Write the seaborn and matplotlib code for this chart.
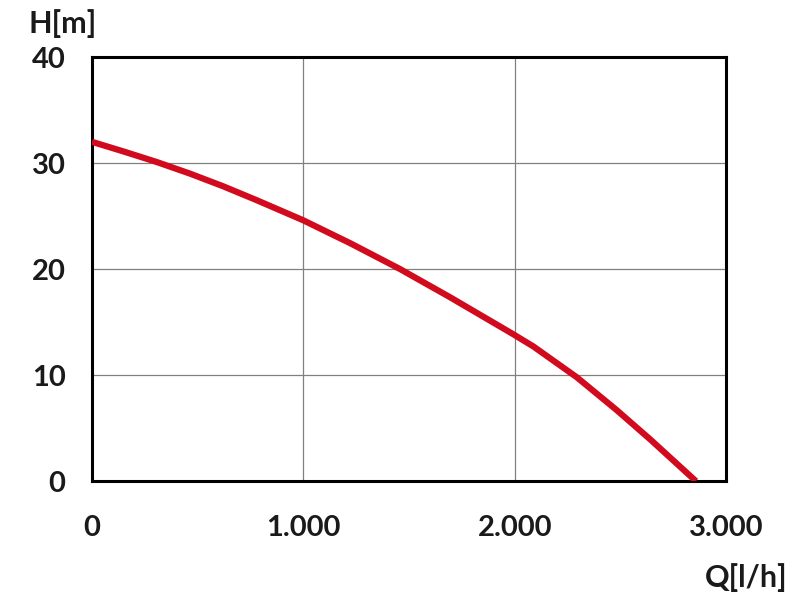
import pandas as pd
import numpy as np
import matplotlib.pyplot as plt
import seaborn as sns

# pump curve
flow_lh = [0, 148, 306, 464, 622, 779, 1000, 1221, 1458, 1694, 1994, 2089, 2294, 2483, 2641, 2858]
head_m = [32, 31.1, 30.1, 29.0, 27.8, 26.5, 24.6, 22.45, 20.0, 17.35, 13.85, 12.7, 9.8, 6.7, 3.95, 0]

x_ticks = [0, 1000, 2000, 3000]
x_labels = ["0", "1.000", "2.000", "3.000"]
y_ticks = [0, 10, 20, 30, 40]

sns.set_style("white")
plt.rcParams["font.family"] = ["Lato", "DejaVu Sans"]

df = pd.DataFrame({"Q": flow_lh, "H": head_m})

fig = plt.figure(figsize=(8, 6), dpi=100)
ax = fig.add_axes([0.115, 0.198, 0.7925, 0.707])
fig.patch.set_facecolor("white")

sns.lineplot(data=df, x="Q", y="H", ax=ax, color="#d20a1e", linewidth=4.5,
             solid_capstyle="butt", solid_joinstyle="round", zorder=3)

ax.set_xlim(0, 3000)
ax.set_ylim(0, 40)
ax.set_xticks(x_ticks)
ax.set_xticklabels(x_labels)
ax.set_yticks(y_ticks)
ax.grid(True, color="#808080", linewidth=0.9)
ax.set_axisbelow(True)

for s in ax.spines.values():
    s.set_color("black")
    s.set_linewidth(2.2)

ax.tick_params(axis="y", direction="out", length=11, width=0.9, color="#808080",
               labelsize=21, pad=8)
ax.tick_params(axis="x", direction="out", length=15, width=0.9, color="#808080",
               labelsize=21, pad=9)
for lab in ax.get_xticklabels() + ax.get_yticklabels():
    lab.set_fontweight("bold")
    lab.set_color("#1a1a1a")

ax.set_xlabel("")
ax.set_ylabel("")
fig.text(0.035, 0.96, "H[m]", fontsize=22, fontweight="bold", color="#1a1a1a",
         ha="left", va="center")
fig.text(0.984, 0.038, "Q[l/h]", fontsize=22, fontweight="bold", color="#1a1a1a",
         ha="right", va="center")

plt.savefig("out.png", dpi=100)
